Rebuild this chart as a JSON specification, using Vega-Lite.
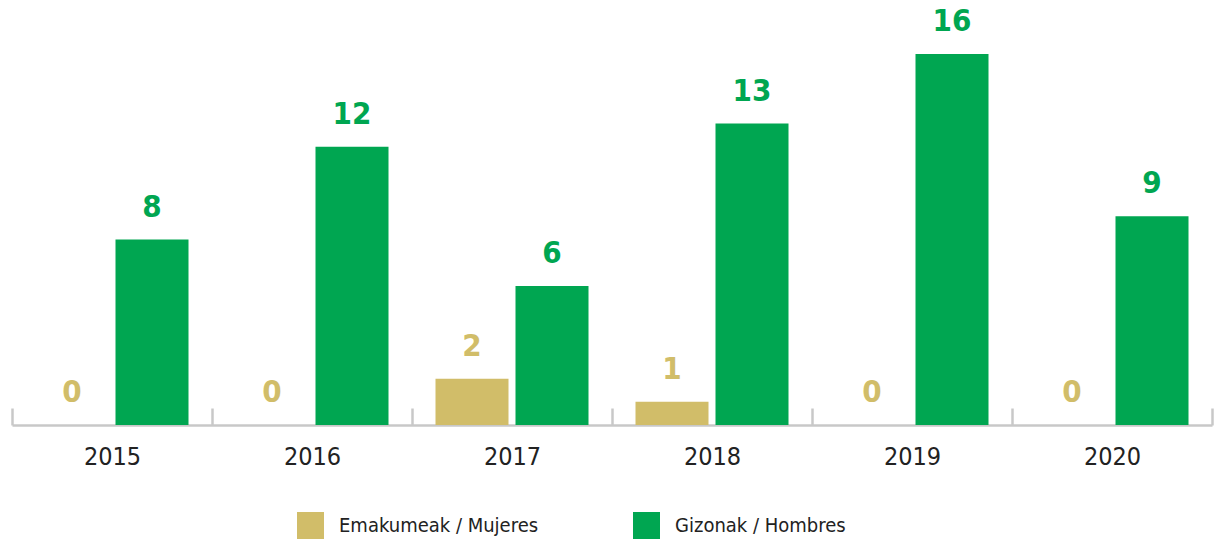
{
  "$schema": "https://vega.github.io/schema/vega-lite/v6.json",
  "width": 1200,
  "height": 425,
  "autosize": "none",
  "padding": {"left": 12, "top": 0, "right": 4, "bottom": 114},
  "data": {
    "values": [
      {"year": "2015", "sex": "Emakumeak / Mujeres", "value": 0},
      {"year": "2015", "sex": "Gizonak / Hombres", "value": 8},
      {"year": "2016", "sex": "Emakumeak / Mujeres", "value": 0},
      {"year": "2016", "sex": "Gizonak / Hombres", "value": 12},
      {"year": "2017", "sex": "Emakumeak / Mujeres", "value": 2},
      {"year": "2017", "sex": "Gizonak / Hombres", "value": 6},
      {"year": "2018", "sex": "Emakumeak / Mujeres", "value": 1},
      {"year": "2018", "sex": "Gizonak / Hombres", "value": 13},
      {"year": "2019", "sex": "Emakumeak / Mujeres", "value": 0},
      {"year": "2019", "sex": "Gizonak / Hombres", "value": 16},
      {"year": "2020", "sex": "Emakumeak / Mujeres", "value": 0},
      {"year": "2020", "sex": "Gizonak / Hombres", "value": 9}
    ]
  },
  "encoding": {
    "x": {
      "field": "year",
      "type": "nominal",
      "scale": {"paddingInner": 0, "paddingOuter": 0},
      "axis": {
        "title": null,
        "labelAngle": 0,
        "labelFont": "DejaVu Sans Condensed, Roboto, sans-serif",
        "labelFontSize": 25,
        "labelColor": "#222222",
        "labelPadding": 36,
        "tickBand": "extent",
        "tickSize": -17,
        "tickWidth": 2.5,
        "tickColor": "#c8c8c8",
        "domainColor": "#c8c8c8",
        "domainWidth": 2.5
      }
    },
    "xOffset": {
      "field": "sex",
      "type": "nominal",
      "sort": ["Emakumeak / Mujeres", "Gizonak / Hombres"],
      "scale": {"paddingInner": 0.0875, "paddingOuter": 0.29375}
    },
    "y": {
      "field": "value",
      "type": "quantitative",
      "scale": {"domain": [0, 18.33], "nice": false, "zero": true},
      "axis": null
    },
    "color": {
      "field": "sex",
      "type": "nominal",
      "scale": {
        "domain": ["Emakumeak / Mujeres", "Gizonak / Hombres"],
        "range": ["#d1bd69", "#00a651"]
      },
      "legend": {
        "title": null,
        "orient": "none",
        "legendX": 285,
        "legendY": 512,
        "direction": "horizontal",
        "padding": 0,
        "symbolType": "square",
        "symbolSize": 729,
        "symbolStrokeWidth": 0,
        "symbolOpacity": 1,
        "labelFont": "DejaVu Sans Condensed, Roboto, sans-serif",
        "labelFontSize": 20,
        "labelLimit": 400,
        "labelColor": "#222222",
        "labelOffset": 15,
        "columnPadding": 94
      }
    }
  },
  "layer": [
    {"mark": {"type": "bar"}},
    {
      "mark": {
        "type": "text",
        "baseline": "bottom",
        "dy": -16,
        "font": "DejaVu Sans Condensed, Roboto, sans-serif",
        "fontWeight": "bold",
        "fontSize": 31
      },
      "encoding": {"text": {"field": "value", "type": "quantitative"}}
    }
  ],
  "config": {"view": {"stroke": null}}
}
